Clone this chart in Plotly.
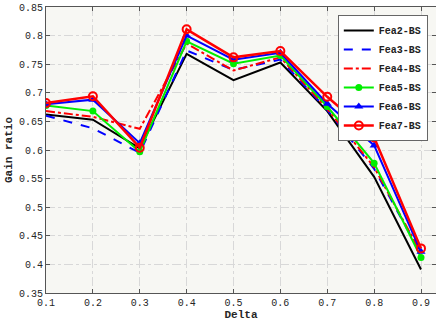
import plotly.graph_objects as go

delta = [0.1, 0.2, 0.3, 0.4, 0.5, 0.6, 0.7, 0.8, 0.9]
fea2 = [0.662, 0.653, 0.603, 0.768, 0.722, 0.753, 0.668, 0.553, 0.391]
fea3 = [0.660, 0.638, 0.595, 0.774, 0.740, 0.758, 0.670, 0.567, 0.418]
fea4 = [0.668, 0.658, 0.637, 0.786, 0.739, 0.762, 0.672, 0.570, 0.420]
fea5 = [0.678, 0.668, 0.597, 0.790, 0.751, 0.765, 0.676, 0.577, 0.412]
fea6 = [0.680, 0.688, 0.612, 0.800, 0.758, 0.770, 0.681, 0.608, 0.422]
fea7 = [0.682, 0.694, 0.604, 0.811, 0.762, 0.773, 0.693, 0.622, 0.428]

xticks = [0.1, 0.2, 0.3, 0.4, 0.5, 0.6, 0.7, 0.8, 0.9]
xticklabels = ["0.1", "0.2", "0.3", "0.4", "0.5", "0.6", "0.7", "0.8", "0.9"]
yticks = [0.35, 0.4, 0.45, 0.5, 0.55, 0.6, 0.65, 0.7, 0.75, 0.8, 0.85]
yticklabels = ["0.35", "0.4", "0.45", "0.5", "0.55", "0.6", "0.65", "0.7", "0.75", "0.8", "0.85"]

mono = "'Liberation Mono', 'Courier New', 'DejaVu Sans Mono', monospace"

fig = go.Figure()
fig.add_trace(go.Scatter(x=delta, y=fea2, name="Fea2-BS", mode="lines",
                         line=dict(color="black", width=2)))
fig.add_trace(go.Scatter(x=delta, y=fea3, name="Fea3-BS", mode="lines",
                         line=dict(color="#0000ff", width=2, dash="dash")))
fig.add_trace(go.Scatter(x=delta, y=fea4, name="Fea4-BS", mode="lines",
                         line=dict(color="#ff0000", width=2, dash="dashdot")))
fig.add_trace(go.Scatter(x=delta, y=fea5, name="Fea5-BS", mode="lines+markers",
                         line=dict(color="#00ee00", width=2),
                         marker=dict(symbol="circle", size=7, color="#00ee00")))
fig.add_trace(go.Scatter(x=delta, y=fea6, name="Fea6-BS", mode="lines+markers",
                         line=dict(color="#0000ff", width=2),
                         marker=dict(symbol="triangle-up", size=8, color="#0000ff")))
fig.add_trace(go.Scatter(x=delta, y=fea7, name="Fea7-BS", mode="lines+markers",
                         line=dict(color="#ff0000", width=2.5),
                         marker=dict(symbol="circle-open", size=8, color="#ff0000",
                                     line=dict(width=2))))

fig.update_layout(
    width=436, height=327,
    margin=dict(l=46, r=0, t=7, b=34),
    paper_bgcolor="white",
    plot_bgcolor="#f7f7f3",
    font=dict(family=mono, size=10, color="#262626"),
    showlegend=True,
    legend=dict(x=0.979, y=0.972, xanchor="right", yanchor="top",
                bgcolor="white", bordercolor="#666666", borderwidth=1,
                font=dict(family=mono, size=10, color="#222222", weight="bold"),
                tracegroupgap=0, itemwidth=30),
)
fig.update_xaxes(
    range=[0.1, 0.932], tickvals=xticks, ticktext=xticklabels,
    showgrid=True, gridcolor="#d8d8d8", griddash="dashdot", gridwidth=1,
    showline=True, linecolor="#555555", linewidth=1, mirror="ticks",
    ticks="inside", ticklen=4, tickcolor="#555555",
    zeroline=False,
    title=dict(text="Delta", font=dict(family=mono, size=11, weight="bold"), standoff=2),
)
fig.update_yaxes(
    range=[0.35, 0.85], tickvals=yticks, ticktext=yticklabels,
    showgrid=True, gridcolor="#d8d8d8", griddash="dashdot", gridwidth=1,
    showline=True, linecolor="#555555", linewidth=1, mirror="ticks",
    ticks="inside", ticklen=4, tickcolor="#555555",
    zeroline=False,
    title=dict(text="Gain ratio", font=dict(family=mono, size=11, weight="bold"), standoff=4),
)

fig.write_html("out.html", config={"displayModeBar": False},
               post_script="document.body.style.margin='0';")
